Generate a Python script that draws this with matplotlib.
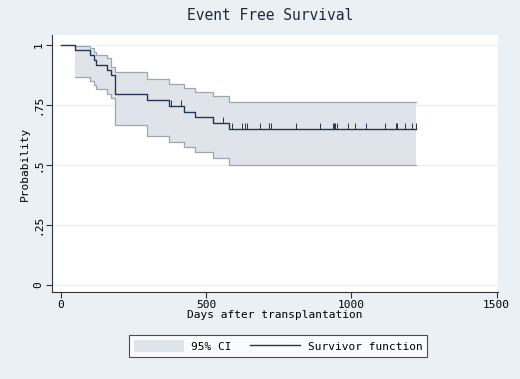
import numpy as np
import matplotlib
matplotlib.use("Agg")
import matplotlib.pyplot as plt
from matplotlib.patches import Patch
from matplotlib.lines import Line2D

# Kaplan-Meier estimate
event_days = [48, 100, 112, 120, 160, 172, 185, 295, 372, 425, 462, 525, 577]
surv = [0.979, 0.958, 0.938, 0.917, 0.896, 0.875, 0.795, 0.773, 0.748, 0.722, 0.699, 0.674, 0.651]
ci_lower = [0.865, 0.850, 0.833, 0.815, 0.797, 0.778, 0.665, 0.620, 0.598, 0.576, 0.553, 0.528, 0.500]
ci_upper = [0.997, 0.986, 0.970, 0.960, 0.947, 0.910, 0.889, 0.858, 0.839, 0.820, 0.803, 0.787, 0.764]
censor_days = [379, 414, 557, 589, 623, 634, 640, 686, 715, 718, 723, 810, 891, 937, 941,
               945, 950, 989, 1011, 1051, 1117, 1152, 1158, 1184, 1209, 1221]
last_day = 1221

x_ticks = [0, 500, 1000, 1500]
y_ticks = [0, 0.25, 0.5, 0.75, 1]
y_ticklabels = ["0", ".25", ".5", ".75", "1"]

BG = "#eaf0f3"
NAVY = "#233752"
CI_FILL = "#dfe4ea"
CI_EDGE = "#9da7b0"
FONT = "DejaVu Sans Mono"

plt.rcParams["font.family"] = FONT

fig = plt.figure(figsize=(5.2, 3.79), dpi=100, facecolor=BG)
ax = fig.add_axes([52 / 520, 1 - 292 / 379, 446 / 520, 257 / 379])
ax.set_facecolor("white")

# confidence band
t_ci = np.array(event_days + [last_day])
lo = np.array(ci_lower + [ci_lower[-1]])
hi = np.array(ci_upper + [ci_upper[-1]])
ax.fill_between(t_ci, lo, hi, step="post", color=CI_FILL, lw=0, zorder=2)
ax.step(t_ci, lo, where="post", color=CI_EDGE, lw=0.9, zorder=3)
ax.step(t_ci, hi, where="post", color=CI_EDGE, lw=0.9, zorder=3)

# survivor function
t_s = np.array([0] + event_days + [last_day])
s = np.array([1.0] + surv + [surv[-1]])
ax.step(t_s, s, where="post", color=NAVY, lw=1.0, zorder=4)

# censoring ticks
idx = np.searchsorted(t_s, censor_days, side="right") - 1
lev = s[idx]
ax.vlines(censor_days, lev, lev + 0.025, color=NAVY, lw=0.7, zorder=4)

for yv in y_ticks:
    ax.axhline(yv, color="#e9eef1", lw=0.9, zorder=1)

ax.set_xlim(-31, 1505)
ax.set_ylim(-0.029, 1.042)
ax.set_xticks(x_ticks)
ax.set_xticklabels([str(v) for v in x_ticks], fontsize=8)
ax.set_yticks(y_ticks)
ax.set_yticklabels(y_ticklabels, fontsize=8, rotation=90, va="center")
ax.tick_params(length=4, width=0.8, color="#333333", pad=2)
for side in ["top", "right"]:
    ax.spines[side].set_visible(False)
for side in ["left", "bottom"]:
    ax.spines[side].set_color("#333333")
    ax.spines[side].set_linewidth(0.8)

ax.set_xlabel("Days after transplantation", fontsize=8, labelpad=0)
ax.set_ylabel("Probability", fontsize=8, labelpad=3)
fig.text(270 / 520, 1 - 16 / 379, "Event Free Survival", ha="center", va="center",
         fontsize=10.5, color="#1a2a40")

handles = [Patch(facecolor=CI_FILL, edgecolor="none"),
           Line2D([0], [0], color=NAVY, lw=1.0)]
leg = fig.legend(handles, ["95% CI", "Survivor function"], ncol=2,
                 loc="center", bbox_to_anchor=(278 / 520, 1 - 346 / 379),
                 fontsize=8, frameon=True, fancybox=False, handlelength=4.5,
                 handleheight=1.2, columnspacing=1.6, borderpad=0.45,
                 handletextpad=0.7)
leg.get_frame().set_edgecolor("#222222")
leg.get_frame().set_linewidth(0.8)
leg.get_frame().set_facecolor("white")

fig.savefig("out.png", dpi=100, facecolor=BG)
